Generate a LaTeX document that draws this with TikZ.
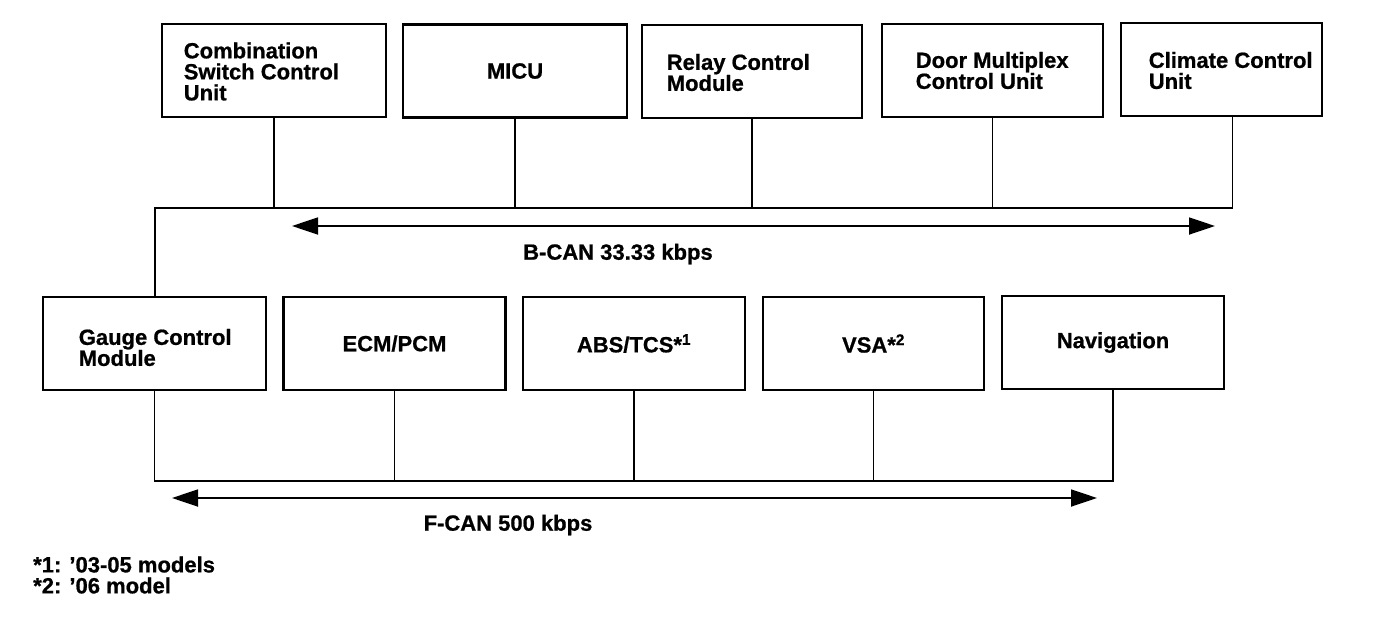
\documentclass[tikz,border=0pt]{standalone}
\usepackage{fontspec}
\setmainfont{Liberation Sans}[BoldFeatures={FakeBold=0.8}]
\usetikzlibrary{arrows.meta,calc}
\begin{document}
\begin{tikzpicture}[x=1pt,y=-1pt,
  box/.style={draw,line width=2.8pt,minimum height=93pt,inner sep=0pt,align=center,
    font=\fontsize{22}{21}\selectfont\bfseries},
  txt/.style={inner sep=0pt,align=left,anchor=west,font=\fontsize{22}{21}\selectfont\bfseries},
  wire/.style={line width=1.8pt},
  bus/.style={line width=1.8pt,{Triangle[length=26pt,width=17pt]}-{Triangle[length=26pt,width=17pt]}},
  lbl/.style={font=\fontsize{22}{21}\selectfont\bfseries,inner sep=0pt}]
\useasboundingbox (0,0) rectangle (1392,632);
% top row
\node[box,minimum width=224pt] (csc) at (274,70.5) {};
\node[txt] (csct) at ($(csc.west)+(23,1)$) {Combination\\Switch Control\\Unit};
\node[box,minimum width=224pt] (micu) at (515,71) {MICU};
\node[box,minimum width=220pt] (rcm) at (752,71.5) {};
\node[txt] (rcmt) at ($(rcm.west)+(26,1)$) {Relay Control\\Module};
\node[box,minimum width=221pt] (dmcu) at (992.5,70.5) {};
\node[txt] (dmcut) at ($(dmcu.west)+(35,0)$) {Door Multiplex\\Control Unit};
\node[box,minimum width=201pt] (clim) at (1221.5,69.5) {};
\node[txt] (climt) at ($(clim.west)+(29,1)$) {Climate Control\\Unit};
% bottom row
\node[box,minimum width=223pt] (gcm) at (154.5,343.5) {};
\node[txt] (gcmt) at ($(gcm.west)+(37,4)$) {Gauge Control\\Module};
\node[box,minimum width=222pt] (ecm) at (394.5,343.5) {\raisebox{-4pt}{ECM/PCM}};
\node[box,minimum width=222pt] (abs) at (634,343.5) {\raisebox{-2pt}{ABS/TCS*\textsuperscript{1}}};
\node[box,minimum width=221pt] (vsa) at (873.5,343.5) {\raisebox{-2pt}{VSA*\textsuperscript{2}}};
\node[box,minimum width=222pt] (nav) at (1113,342.5) {\raisebox{-2pt}{Navigation}};
% B-CAN bus
\coordinate (bl) at (155,208);
\coordinate (br) at ($(clim.south)+(11,0)$);
\draw[wire] (csc.south) -- (csc.south |- bl);
\draw[wire] (micu.south) -- (micu.south |- bl);
\draw[wire] (rcm.south) -- (rcm.south |- bl);
\draw[wire] (dmcu.south) -- (dmcu.south |- bl);
\draw[wire] (br) -- (br |- bl) -- (bl) -- (bl |- gcm.north);
\coordinate (ba1) at (292,226);
\coordinate (ba2) at (1215,226);
\draw[bus] (ba1) -- (ba2);
\node[lbl] (bcan) at (618,254) {B-CAN 33.33 kbps};
% F-CAN bus
\coordinate (fl) at (gcm.south |- 0,481);
\draw[wire] (gcm.south) -- (fl) -- (nav.south |- fl) -- (nav.south);
\draw[wire] (ecm.south) -- (ecm.south |- fl);
\draw[wire] (abs.south) -- (abs.south |- fl);
\draw[wire] (vsa.south) -- (vsa.south |- fl);
\coordinate (fa1) at (172,498);
\coordinate (fa2) at (1097,498);
\draw[bus] (fa1) -- (fa2);
\node[lbl] (fcan) at (508,525) {F-CAN 500 kbps};
% notes
\node[txt] (notes) at (33,575) {*1: ’03-05 models\\*2: ’06 model};
\end{tikzpicture}
\end{document}
